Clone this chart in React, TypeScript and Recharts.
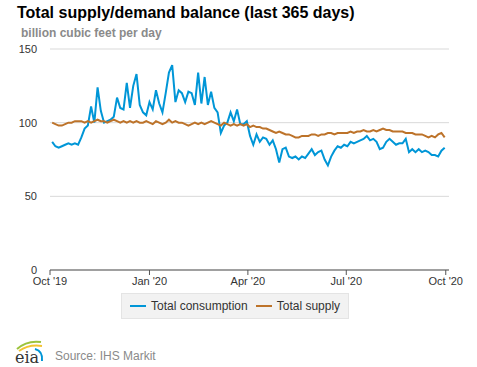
import { LineChart, Line, XAxis, YAxis, CartesianGrid } from "recharts";

// daily-ish readings, one every 3 days starting 2 days after Oct 1 2019
const consumption = [
  87, 84, 83, 84, 85, 86, 85, 86, 85, 90,
  96, 98, 111, 100, 124, 108, 100, 101, 102, 104,
  117, 110, 109, 127, 110, 125, 133, 112, 107, 105,
  114, 109, 122, 113, 107, 120, 134, 139, 114, 122,
  120, 114, 121, 120, 112, 134, 113, 131, 112, 121,
  110, 107, 93, 98, 100, 107, 101, 109, 99, 99,
  101, 91, 85, 92, 87, 90, 89, 85, 88, 82,
  73, 82, 83, 77, 76, 77, 75, 77, 76, 79,
  82, 78, 80, 81, 75, 71, 77, 81, 84, 83,
  85, 84, 87, 86, 87, 88, 89, 91, 88, 89,
  87, 82, 83, 87, 89, 87, 85, 86, 86, 89,
  80, 82, 80, 82, 80, 81, 80, 78, 78, 77,
  81, 83,
];

const supply = [
  100, 99, 98, 98, 99, 100, 100, 101, 101, 101,
  100, 101, 100, 101, 102, 101, 101, 100, 101, 102,
  101, 100, 101, 100, 101, 100, 101, 100, 100, 101,
  100, 99, 101, 100, 99, 100, 102, 100, 101, 100,
  100, 99, 98, 99, 100, 99, 100, 99, 100, 101,
  100, 99, 98, 100, 99, 98, 99, 98, 99, 98,
  99, 97, 98, 97, 97, 96, 96, 95, 94, 93,
  94, 93, 92, 92, 91, 90, 90, 91, 91, 91,
  92, 92, 91, 92, 92, 93, 93, 92, 93, 93,
  93, 93, 94, 93, 94, 94, 95, 94, 94, 95,
  94, 95, 96, 95, 95, 94, 94, 94, 94, 93,
  93, 93, 92, 92, 92, 91, 90, 91, 90, 92,
  93, 90,
];

const tickDays = [0, 92, 183, 274, 366];
const tickLabels = ["Oct '19", "Jan '20", "Apr '20", "Jul '20", "Oct '20"];
const yTicks = [0, 50, 100, 150];

const data = consumption.map((c, i) => ({
  day: 2 + i * 3,
  consumption: c,
  supply: supply[i],
}));

const FONT = "Arial, 'Liberation Sans', sans-serif";
const BLUE = "#0096d7";
const ORANGE = "#bd732a";

export default function App() {
  return (
    <div
      style={{
        position: "absolute",
        left: 0,
        top: 0,
        width: 477,
        height: 367,
        background: "#fff",
        fontFamily: FONT,
      }}
    >
      <div
        style={{
          position: "absolute",
          left: 17,
          top: 4,
          fontSize: 16,
          fontWeight: "bold",
          color: "#000",
          whiteSpace: "nowrap",
        }}
      >
        Total supply/demand balance (last 365 days)
      </div>
      <div
        style={{
          position: "absolute",
          left: 21,
          top: 26,
          fontSize: 12,
          fontWeight: "bold",
          color: "#8a8a8a",
          whiteSpace: "nowrap",
        }}
      >
        billion cubic feet per day
      </div>

      <div style={{ position: "absolute", left: 0, top: 0 }}>
        <LineChart
          width={477}
          height={292}
          data={data}
          margin={{ top: 49, right: 28, bottom: 2, left: 10 }}
        >
          <CartesianGrid vertical={false} stroke="#d9d9d9" />
          <XAxis
            dataKey="day"
            type="number"
            domain={[0, 369]}
            ticks={tickDays}
            tickFormatter={(v) => tickLabels[tickDays.indexOf(v)] ?? ""}
            height={20}
            axisLine={{ stroke: "#555" }}
            tickLine={{ stroke: "#555" }}
            tickSize={5}
            tick={{ fontSize: 11, fill: "#333", fontFamily: FONT }}
            interval={0}
            allowDataOverflow
          />
          <YAxis
            domain={[0, 150]}
            ticks={yTicks}
            width={40}
            axisLine={false}
            tickLine={false}
            tick={{ fontSize: 11, fill: "#333", fontFamily: FONT }}
            tickMargin={7}
          />
          <Line
            dataKey="consumption"
            stroke={BLUE}
            strokeWidth={2}
            dot={false}
            type="linear"
            isAnimationActive={false}
          />
          <Line
            dataKey="supply"
            stroke={ORANGE}
            strokeWidth={2}
            dot={false}
            type="linear"
            isAnimationActive={false}
          />
        </LineChart>
      </div>

      {/* Legend */}
      <div
        style={{
          position: "absolute",
          left: 121,
          top: 293,
          width: 226,
          height: 24,
          background: "#f2f2f2",
          border: "1px solid #e4e4e4",
          display: "flex",
          alignItems: "center",
          fontSize: 12,
          color: "#333",
          whiteSpace: "nowrap",
        }}
      >
        <span
          style={{
            display: "inline-block",
            width: 16,
            height: 2,
            background: BLUE,
            marginLeft: 8,
            marginRight: 5,
          }}
        />
        <span>Total consumption</span>
        <span
          style={{
            display: "inline-block",
            width: 16,
            height: 2,
            background: ORANGE,
            marginLeft: 8,
            marginRight: 5,
          }}
        />
        <span>Total supply</span>
      </div>

      {/* eia logo */}
      <svg
        width={38}
        height={30}
        style={{ position: "absolute", left: 13, top: 338 }}
      >
        <path d="M4 11 Q 14 2 28 4" stroke="#9cc33c" strokeWidth={2} fill="none" />
        <path d="M6 13 Q 16 6 29 8" stroke="#f3c331" strokeWidth={2} fill="none" />
        <path d="M22 11 Q 30 13 29 23" stroke={BLUE} strokeWidth={2} fill="none" />
        <text x={2} y={25} fontFamily="'DejaVu Serif', serif" fontSize={16} fill="#333">
          eia
        </text>
      </svg>
      <div
        style={{
          position: "absolute",
          left: 55,
          top: 349,
          fontSize: 12,
          color: "#8a8a8a",
          whiteSpace: "nowrap",
        }}
      >
        Source: IHS Markit
      </div>
    </div>
  );
}
